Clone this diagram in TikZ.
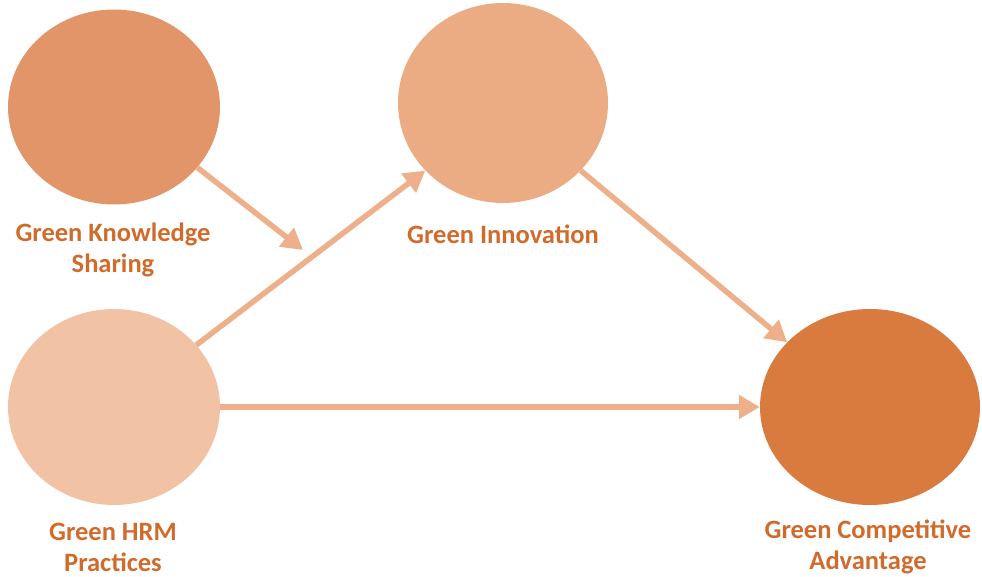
\documentclass[tikz,border=0pt]{standalone}
\usepackage{fontspec}
\setmainfont{Carlito}
\usetikzlibrary{arrows.meta,shapes.geometric}
\definecolor{cKnow}{HTML}{E3956A}
\definecolor{cInno}{HTML}{EBAC84}
\definecolor{cHrm}{HTML}{F1C3A4}
\definecolor{cComp}{HTML}{D97B3F}
\definecolor{cText}{HTML}{D06B2C}
\definecolor{cArrow}{HTML}{EDB08B}
\tikzset{
  construct/.style={ellipse, fill=#1, inner sep=0pt},
  lbl/.style={text=cText, font=\bfseries\fontsize{26.5}{31}\selectfont, align=center},
  link/.style={draw=cArrow, line width=5.5pt, -{Triangle[length=21pt,width=23pt]}},
}
\begin{document}
\begin{tikzpicture}[x=1pt,y=-1pt]
\useasboundingbox (0,0) rectangle (982,577);
\node[construct=cKnow, minimum width=212pt, minimum height=195pt] (gks) at (114,107) {};
\node[construct=cInno, minimum width=210pt, minimum height=200pt] (gi) at (503,103) {};
\node[construct=cHrm, minimum width=212pt, minimum height=196pt] (hrm) at (114,407) {};
\node[construct=cComp, minimum width=220pt, minimum height=196pt] (gca) at (870,407) {};
\node[lbl] (tgks) at (113,250) {Green Knowledge\\Sharing};
\node[lbl] (tgi) at (503,234) {Green Innovation};
\node[lbl] (thrm) at (113,547) {Green HRM\\Practices};
\node[lbl] (tgca) at (868,547) {Green Competitive\\Advantage};
\coordinate (k) at (303,250);
\draw[link] (gks.-36) -- (k);
\draw[link] (hrm.37) -- (gi.221);
\draw[link] (gi.-41) -- (gca.142);
\draw[link] (hrm.east) -- (gca.west);
\end{tikzpicture}
\end{document}
